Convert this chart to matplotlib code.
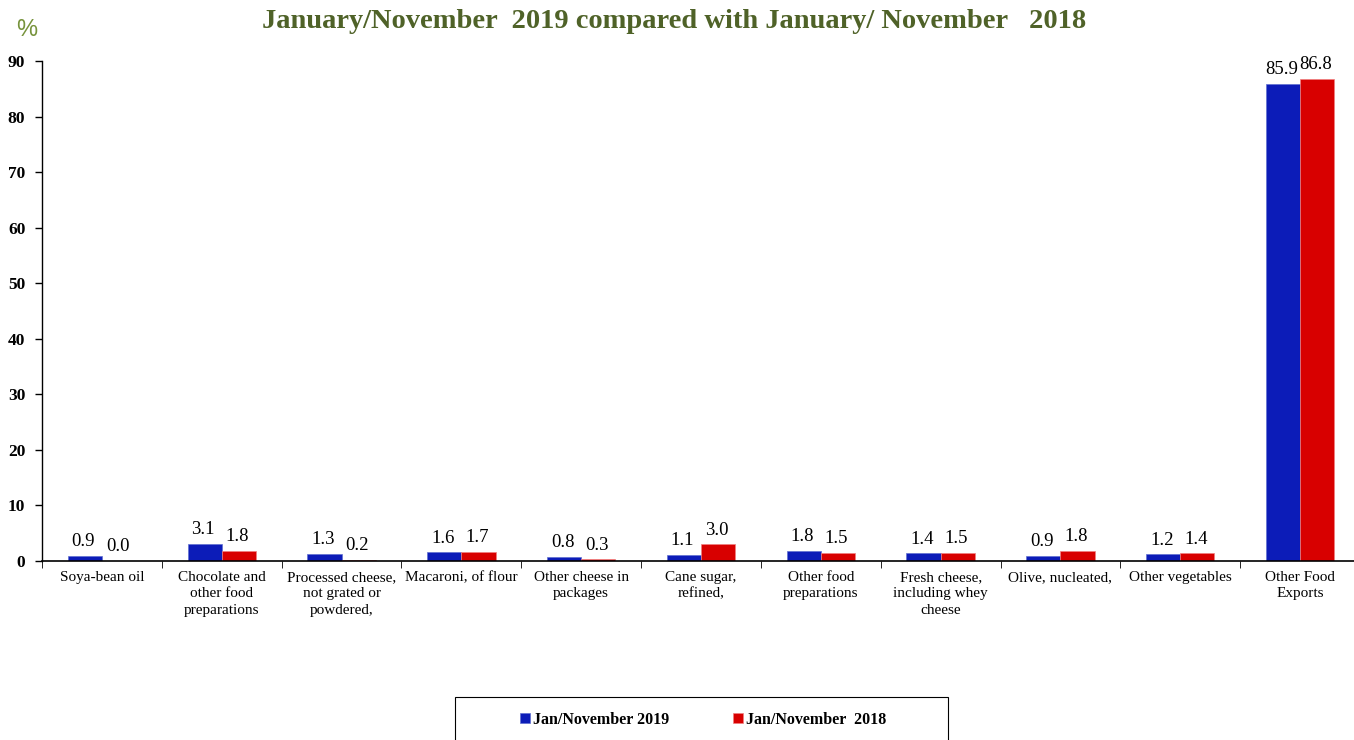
#!/usr/bin/env python3
# -*- coding: utf-8 -*-

import matplotlib
matplotlib.use('Agg')
import matplotlib.pyplot as plt
from matplotlib.patches import Rectangle
import numpy as np

categories = ['Soya-bean oil', 'Chocolate and\nother food\npreparations',
              'Processed cheese,\nnot grated or\npowdered,', 'Macaroni, of flour',
              'Other cheese in\npackages', 'Cane sugar,\nrefined,',
              'Other food\npreparations', 'Fresh cheese,\nincluding whey\ncheese',
              'Olive, nucleated,', 'Other vegetables', 'Other Food\nExports']
jan_nov_2019 = [0.9, 3.1, 1.3, 1.6, 0.8, 1.1, 1.8, 1.4, 0.9, 1.2, 85.9]
jan_nov_2018 = [0.0, 1.8, 0.2, 1.7, 0.3, 3.0, 1.5, 1.5, 1.8, 1.4, 86.8]
yticks = [0, 10, 20, 30, 40, 50, 60, 70, 80, 90]

blue = '#0C1CB8'
red = '#D80000'

plt.rcParams['font.family'] = ['Liberation Serif', 'DejaVu Serif']

fig = plt.figure(figsize=(13.54, 7.40), dpi=100)
# plot area runs a few pixels past the right edge, as in the reference
ax = fig.add_axes([42/1354, 1 - 561/740, (1360 - 42)/1354, 500/740])

x = np.arange(len(categories))
w = 0.285
b1 = ax.bar(x - w/2, jan_nov_2019, w, color=blue, edgecolor='#6070d0', linewidth=0.5,
            label='Jan/November 2019')
b2 = ax.bar(x + w/2, jan_nov_2018, w, color=red, edgecolor='#f08080', linewidth=0.5,
            label='Jan/November  2018')

for bars in (b1, b2):
    for rect in bars:
        h = rect.get_height()
        ax.annotate(f'{h:.1f}', (rect.get_x() + rect.get_width()/2, h),
                    xytext=(-1, 4), textcoords='offset points',
                    ha='center', va='bottom', fontsize=13.5)

ax.set_xlim(-0.5, len(categories) - 0.5)
ax.set_ylim(0, 90)
ax.set_yticks(yticks)
ax.set_yticklabels([str(t) for t in yticks], fontweight='bold', fontsize=12.5)
ax.set_xticks(x)
ax.set_xticklabels(categories, fontsize=11, va='top', linespacing=1.35)
ax.tick_params(axis='x', length=0, pad=7)
ax.set_xticks(np.arange(len(categories)) - 0.5, minor=True)
ax.tick_params(axis='x', which='minor', length=5, direction='out', color='black')
ax.tick_params(axis='y', length=5, direction='out', width=1, pad=7)

for s in ['top', 'right']:
    ax.spines[s].set_visible(False)
ax.spines['left'].set_linewidth(1)
ax.spines['bottom'].set_linewidth(1.2)

fig.text(27/1354, 1 - 30/740, '%', color='#77933C', fontsize=17,
         family='Liberation Sans', ha='center', va='center')
fig.text(674/1354, 1 - 21/740, 'January/November  2019 compared with January/ November   2018',
         color='#4F6228', fontsize=20.5, fontweight='bold', ha='center', va='center')

# legend frame (runs off the bottom edge like the reference)
fig.patches.append(Rectangle((455/1354, -0.05), 493/1354, 0.05 + 43/740,
                             transform=fig.transFigure, fill=False,
                             edgecolor='black', linewidth=0.8))
leg = fig.legend(loc='center', bbox_to_anchor=(703/1354, 1 - 720/740),
                 ncol=2, frameon=False, prop={'weight': 'bold', 'size': 11.5},
                 handlelength=0.6, handleheight=0.6, handletextpad=0.2,
                 columnspacing=4.0)

fig.savefig('out.png', dpi=100)
